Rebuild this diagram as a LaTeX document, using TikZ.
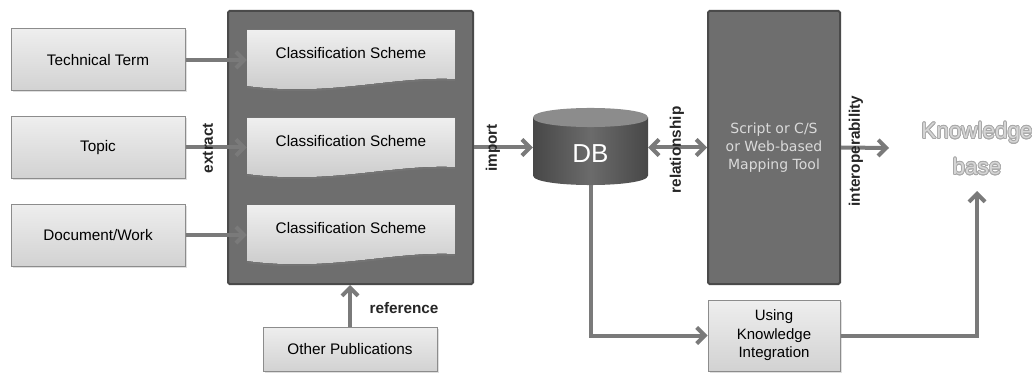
\documentclass[tikz,border=0pt]{standalone}
\usepackage{fontspec}
\setmainfont{Liberation Sans}
\newfontfamily\toolfont{DejaVu Sans}
\usepackage{contour}
\usetikzlibrary{arrows.meta,shadows,calc}
\definecolor{boxborder}{HTML}{8C8C8C}
\definecolor{boxtop}{HTML}{EEEEEE}
\definecolor{boxbot}{HTML}{D2D2D2}
\definecolor{darkfill}{HTML}{6E6E6E}
\definecolor{darkborder}{HTML}{4A4A4A}
\definecolor{arrowgray}{HTML}{7A7A7A}
\definecolor{doctop}{HTML}{EFEFEF}
\definecolor{docbot}{HTML}{C8C8C8}
\definecolor{toolText}{HTML}{DADADA}
\definecolor{kbfill}{HTML}{D6D6D6}
\definecolor{kbline}{HTML}{A8A8A8}
\contourlength{0.8pt}
\begin{document}
\begin{tikzpicture}[x=1pt,y=-1pt,
  lbox/.style={draw=boxborder, line width=1pt, top color=boxtop, bottom color=boxbot,
    drop shadow={opacity=0.25, shadow xshift=1.5pt, shadow yshift=-1.5pt},
    font=\fontsize{15.3}{18}\selectfont, align=center, inner sep=0pt},
  darkbox/.style={draw=darkborder, line width=2pt, fill=darkfill, rounded corners=1.5pt, inner sep=0pt},
  docshape/.style={top color=doctop, bottom color=docbot,
    drop shadow={opacity=0.35, shadow xshift=0pt, shadow yshift=-2pt}},
  doctext/.style={font=\fontsize{15.3}{18}\selectfont, inner sep=0pt, minimum width=208pt, minimum height=48pt},
  arr/.style={draw=arrowgray, line width=4pt, -{Straight Barb[length=8pt,width=16pt]}},
  darr/.style={draw=arrowgray, line width=4pt, {Straight Barb[length=8pt,width=16pt]}-{Straight Barb[length=8pt,width=16pt]}},
  lab/.style={font=\bfseries\fontsize{15.3}{18}\selectfont, text=black!85, inner sep=0pt},
]
\useasboundingbox[fill=white] (0,0) rectangle (1032,374);

% big container
\node[darkbox, minimum width=245pt, minimum height=273pt] (cs) at (350.5,147.5) {};

% document shapes
\foreach \o/\n in {0/d1,88/d2,175/d3}{
  \fill[docshape] (247,30+\o) -- (455,30+\o) -- (455,79+\o)
     .. controls (390,76+\o) and (330,97+\o) .. (247,86+\o) -- cycle;
  \node[doctext] (\n) at (351,53+\o) {Classification Scheme};
}

% left boxes
\node[lbox, minimum width=174pt, minimum height=62pt] (tt) at (98,60) {Technical Term};
\node[lbox, minimum width=174pt, minimum height=61pt] (tp) at (98,147.5) {Topic};
\node[lbox, minimum width=174pt, minimum height=62pt] (dw) at (98,235) {Document/Work};
\node[lbox, minimum width=174pt, minimum height=44pt] (op) at (350,349) {Other Publications};

% DB cylinder
\shade[left color=black!72, right color=black!72, middle color=black!58]
  (533,117.5) -- (533,175.5) .. controls (533,188.2) and (648,188.2) .. (648,175.5) -- (648,117.5) -- cycle;
\fill[black!45] (533,117.5) .. controls (533,104.8) and (648,104.8) .. (648,117.5)
  .. controls (648,130.2) and (533,130.2) .. (533,117.5) -- cycle;
\node[minimum width=115pt, minimum height=62pt, inner sep=0pt, text=white,
  font=\fontsize{26}{28}\selectfont] (db) at (590.5,154) {DB};

% mapping tool
\node[darkbox, minimum width=132pt, minimum height=273pt, text=toolText, align=center,
  font=\toolfont\fontsize{14}{18}\selectfont] (mt) at (774,147.5) {Script or C/S\\or Web-based\\Mapping Tool};

% using knowledge integration
\node[lbox, minimum width=132pt, minimum height=71pt, font=\fontsize{15}{18.5}\selectfont] (ui) at (774,335.5) {Using\\Knowledge\\Integration};

% knowledge base
\node[align=center, text=kbfill, font=\fontsize{22.5}{36}\selectfont, inner sep=0pt] (kb) at (977,149)
  {\contour{kbline}{Knowledge}\\\contour{kbline}{base}};
\coordinate (kbin) at (889,148);
\coordinate (kbup) at (977,191);

% connectors
\draw[arr] (tt.east) -- (tt.east -| d1.west);
\draw[arr] (tp.east) -- (tp.east -| d2.west);
\draw[arr] (dw.east) -- (dw.east -| d3.west);
\draw[arr] (op.north) -- (op.north |- cs.south);
\draw[arr] (cs.east) -- (cs.east -| db.west);
\draw[darr] (mt.west -| db.east) -- (mt.west);
\draw[arr] (mt.east) -- (kbin);
\draw[arr] (db.south) |- (ui.west);
\draw[arr] (ui.east) -| (kbup);

% labels
\node[lab, rotate=90] (lext) at (208,148) {extract};
\node[lab, rotate=90] (limp) at (493,148) {import};
\node[lab, rotate=90] (lrel) at (677,150) {relationship};
\node[lab, rotate=90] (lint) at (856,151) {interoperability};
\node[lab] (lref) at (404,308) {reference};
\end{tikzpicture}
\end{document}
